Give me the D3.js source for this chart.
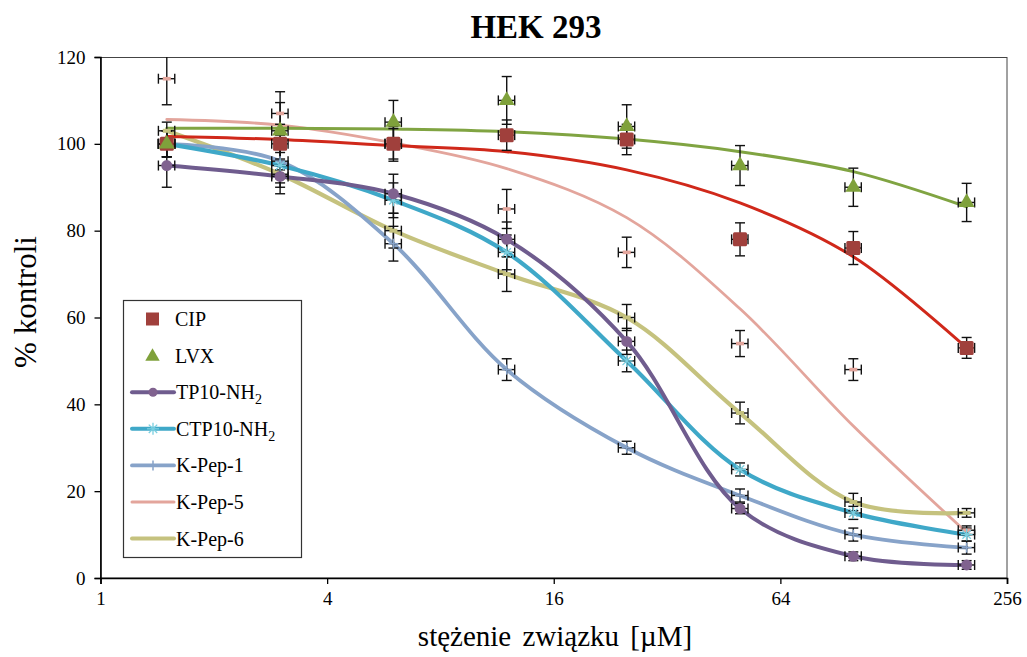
<!DOCTYPE html>
<html>
<head>
<meta charset="utf-8">
<script src="https://cdn.jsdelivr.net/npm/d3@7/dist/d3.min.js"></script>
<style>
  html, body { margin: 0; padding: 0; background: #fff; }
</style>
</head>
<body>
<svg id="chart" width="1027" height="657" font-family="'Liberation Serif', 'Times New Roman', Tinos, 'DejaVu Serif', serif"></svg>
<script>
// ---------------- data ----------------
const concentrations = [1.5, 3, 6, 12, 25, 50, 100, 200];
const xTickValues = [1, 4, 16, 64, 256];
const yTickValues = [0, 20, 40, 60, 80, 100, 120];

const cipValues  = [100, 100, 100, 102, 101, 78, 76, 53];
const cipErr     = [3, 2, 3.5, 3.5, 3.5, 3.8, 3.8, 2.4];
const cipFit     = [101.7, 101, 99.6, 98.2, 94, 86.4, 74, 53];

const lvxValues  = [100, 103, 105, 110, 104, 95, 90, 86.5];
const lvxErr     = [3, 9, 5, 5.5, 5, 4.6, 4.4, 4.4];
const lvxFit     = [103.6, 103.6, 103.4, 102.8, 101.1, 98.2, 93.6, 85.5];

const tp10Values = [95, 92.5, 88.5, 78, 54.5, 16, 5, 3];
const tp10Err    = [5, 4, 4.5, 4, 3, 1.2, 1, 1];

const ctp10Values = [100, 95, 87, 75, 50, 25, 15, 10];
const ctp10Err    = [3, 4, 4, 4, 2.5, 1.5, 1.5, 1.5];

const kpep1Values = [100, 96, 77, 48, 30, 19, 10, 7];
const kpep1Err    = [3, 4, 4, 2.5, 1.5, 1.5, 1.5, 1.5];

const kpep5Values = [115, 107, 100, 85, 75, 54, 48, 11];
const kpep5Err    = [6, 2.5, 4, 4.5, 3.5, 3, 2.5, 1];
const kpep5Fit    = [105.6, 104.3, 100.2, 94.3, 83, 62, 35, 10.5];

const kpep6Values = [103, 93, 80, 70, 60, 38, 17.5, 15];
const kpep6Err    = [2, 3, 4, 4, 3, 2.5, 2, 1];

const xErrFraction = 0.05;

// ---------------- layout ----------------
const FONT = "'Liberation Serif', 'Times New Roman', Tinos, 'DejaVu Serif', serif";
const svg = d3.select("#chart");
const x = d3.scaleLog().base(2).domain([1, 256]).range([100.5, 1007]);
const y = d3.scaleLinear().domain([0, 120]).range([578, 57]);

const colors = {
  cip: "#A0403C", cipLine: "#D0281A",
  lvx: "#7FA13B", lvxLine: "#80A442",
  tp10: "#6F5C8E", tp10Marker: "#80628F",
  ctp10: "#3FA8C8", ctp10Marker: "#7ACFE0",
  kpep1: "#87A3C9",
  kpep5: "#E3A59C",
  kpep6: "#C5C27E"
};

// plot area border
svg.append("rect")
  .attr("x", 100.5).attr("y", 57.5)
  .attr("width", 1007 - 100.5).attr("height", 578 - 57.5)
  .attr("fill", "none").attr("stroke", "#444").attr("stroke-width", 1);

// axes
const xAxis = d3.axisBottom(x).tickValues(xTickValues).tickFormat(d3.format("d")).tickSizeOuter(0).tickSize(6).tickPadding(8);
const gx = svg.append("g").attr("transform", "translate(0,578)").call(xAxis);
gx.attr("font-family", FONT).attr("font-size", 19);
gx.selectAll("text").attr("fill", "#000");
gx.select(".domain").attr("stroke-width", 1.6);
gx.selectAll(".tick line").attr("stroke-width", 1.3);

const yAxis = d3.axisLeft(y).tickValues(yTickValues).tickSizeOuter(0).tickSize(6).tickPadding(9);
const gy = svg.append("g").attr("transform", "translate(100.5,0)").call(yAxis);
gy.attr("font-family", FONT).attr("font-size", 19);
gy.selectAll("text").attr("fill", "#000");
gy.select(".domain").attr("stroke-width", 1.6);
gy.selectAll(".tick line").attr("stroke-width", 1.3);

// titles
svg.append("text").attr("x", 536).attr("y", 38).attr("text-anchor", "middle").attr("font-family", FONT)
  .attr("font-size", 33).attr("font-weight", "bold").text("HEK 293");
svg.append("text").attr("x", 555).attr("y", 646).attr("text-anchor", "middle").attr("font-family", FONT)
  .attr("font-size", 29).attr("word-spacing", 4).text("stężenie związku [µM]");
svg.append("text").attr("transform", "translate(36,302) rotate(-90)").attr("text-anchor", "middle").attr("font-family", FONT)
  .attr("font-size", 31).text("% kontroli");

// ---------------- series ----------------
const plot = svg.append("g");
const line = d3.line().x((d, i) => x(concentrations[i])).y(d => y(d)).curve(d3.curveCatmullRom.alpha(0.5));

function drawLine(values, color, width) {
  plot.append("path").datum(values).attr("d", line)
    .attr("fill", "none").attr("stroke", color).attr("stroke-width", width)
    .attr("stroke-linejoin", "round").attr("stroke-linecap", "round");
}

drawLine(kpep5Fit, colors.kpep5, 2.8);
drawLine(kpep6Values, colors.kpep6, 4.2);
drawLine(kpep1Values, colors.kpep1, 3.8);
drawLine(ctp10Values, colors.ctp10, 4.2);
drawLine(tp10Values, colors.tp10, 4);
drawLine(cipFit, colors.cipLine, 3);
drawLine(lvxFit, colors.lvxLine, 3);

// error bars
const errG = plot.append("g").attr("stroke", "#111").attr("stroke-width", 1.4).attr("fill", "none");
function drawErr(values, errs) {
  values.forEach((v, i) => {
    const c = concentrations[i];
    const cx = x(c), cy = y(v);
    const y1 = y(v + errs[i]), y2 = y(v - errs[i]);
    const x1 = x(c * (1 - xErrFraction)), x2 = x(c * (1 + xErrFraction));
    errG.append("line").attr("x1", cx).attr("x2", cx).attr("y1", Math.max(y1, 57)).attr("y2", y2);
    if (y1 >= 57) errG.append("line").attr("x1", cx - 5).attr("x2", cx + 5).attr("y1", y1).attr("y2", y1);
    errG.append("line").attr("x1", cx - 5).attr("x2", cx + 5).attr("y1", y2).attr("y2", y2);
    errG.append("line").attr("x1", x1).attr("x2", x2).attr("y1", cy).attr("y2", cy);
    errG.append("line").attr("x1", x1).attr("x2", x1).attr("y1", cy - 5).attr("y2", cy + 5);
    errG.append("line").attr("x1", x2).attr("x2", x2).attr("y1", cy - 5).attr("y2", cy + 5);
  });
}
drawErr(kpep5Values, kpep5Err);
drawErr(kpep6Values, kpep6Err);
drawErr(kpep1Values, kpep1Err);
drawErr(ctp10Values, ctp10Err);
drawErr(tp10Values, tp10Err);
drawErr(cipValues, cipErr);
drawErr(lvxValues, lvxErr);

// markers
const mk = plot.append("g");
function px(i) { return x(concentrations[i]); }
kpep5Values.forEach((v, i) => mk.append("rect").attr("x", px(i) - 4).attr("y", y(v) - 1.8).attr("width", 8).attr("height", 3.6).attr("fill", colors.kpep5));
kpep6Values.forEach((v, i) => mk.append("rect").attr("x", px(i) - 4).attr("y", y(v) - 2).attr("width", 8).attr("height", 4).attr("fill", colors.kpep6));
kpep1Values.forEach((v, i) => {
  const g = mk.append("g").attr("transform", `translate(${px(i)},${y(v)})`).attr("stroke", colors.kpep1).attr("stroke-width", 1.5);
  g.append("line").attr("x1", -5).attr("x2", 5);
  g.append("line").attr("y1", -5).attr("y2", 5);
});
function asterisk(g, s) {
  g.append("line").attr("x1", -s).attr("x2", s);
  g.append("line").attr("x1", -s * 0.7).attr("x2", s * 0.7).attr("y1", -s * 0.7).attr("y2", s * 0.7);
  g.append("line").attr("x1", -s * 0.7).attr("x2", s * 0.7).attr("y1", s * 0.7).attr("y2", -s * 0.7);
  g.append("line").attr("y1", -s).attr("y2", s);
}
ctp10Values.forEach((v, i) => {
  const g = mk.append("g").attr("transform", `translate(${px(i)},${y(v)})`).attr("stroke", colors.ctp10Marker).attr("stroke-width", 1.3);
  asterisk(g, 6);
});
tp10Values.forEach((v, i) => mk.append("circle").attr("cx", px(i)).attr("cy", y(v)).attr("r", 5.5).attr("fill", colors.tp10Marker));
cipValues.forEach((v, i) => mk.append("rect").attr("x", px(i) - 7).attr("y", y(v) - 7).attr("width", 14).attr("height", 14).attr("rx", 1.5).attr("fill", colors.cip));
const tri = d3.symbol().type(d3.symbolTriangle).size(110);
lvxValues.forEach((v, i) => mk.append("path").attr("d", tri).attr("transform", `translate(${px(i)},${y(v)})`).attr("fill", colors.lvx));

// ---------------- legend ----------------
const lg = svg.append("g").attr("font-family", FONT);
lg.append("rect").attr("x", 123.5).attr("y", 300.5).attr("width", 178).attr("height", 257)
  .attr("fill", "#fff").attr("stroke", "#333").attr("stroke-width", 1.2);
const legendItems = [
  { label: "CIP", type: "square" },
  { label: "LVX", type: "triangle" },
  { label: "TP10-NH", sub: "2", type: "line", color: colors.tp10, w: 4, marker: "circle" },
  { label: "CTP10-NH", sub: "2", type: "line", color: colors.ctp10, w: 4, marker: "asterisk" },
  { label: "K-Pep-1", type: "line", color: colors.kpep1, w: 3.8, marker: "plus" },
  { label: "K-Pep-5", type: "line", color: colors.kpep5, w: 3 },
  { label: "K-Pep-6", type: "line", color: colors.kpep6, w: 4 }
];
legendItems.forEach((it, i) => {
  const cy = 319 + i * 36.6;
  if (it.type === "square") {
    lg.append("rect").attr("x", 146).attr("y", cy - 6.5).attr("width", 13).attr("height", 13).attr("fill", colors.cip);
  } else if (it.type === "triangle") {
    lg.append("path").attr("d", d3.symbol().type(d3.symbolTriangle).size(90)).attr("transform", `translate(152.5,${cy + 1})`).attr("fill", colors.lvx);
  } else {
    lg.append("line").attr("x1", 132).attr("x2", 174).attr("y1", cy).attr("y2", cy)
      .attr("stroke", it.color).attr("stroke-width", it.w).attr("stroke-linecap", "round");
    if (it.marker === "circle") lg.append("circle").attr("cx", 153).attr("cy", cy).attr("r", 4.5).attr("fill", colors.tp10Marker);
    if (it.marker === "asterisk") { const g = lg.append("g").attr("transform", `translate(153,${cy})`).attr("stroke", colors.ctp10Marker).attr("stroke-width", 1.3); asterisk(g, 6); }
    if (it.marker === "plus") { const g = lg.append("g").attr("transform", `translate(153,${cy})`).attr("stroke", colors.kpep1).attr("stroke-width", 1.5); g.append("line").attr("y1", -5).attr("y2", 5); }
  }
  const tx = it.type === "line" ? 176 : 175;
  const t = lg.append("text").attr("x", tx).attr("y", cy + 7).attr("font-size", 20).text(it.label);
  if (it.sub) t.append("tspan").attr("font-size", 14).attr("dy", 5).text(it.sub);
});
</script>
</body>
</html>
